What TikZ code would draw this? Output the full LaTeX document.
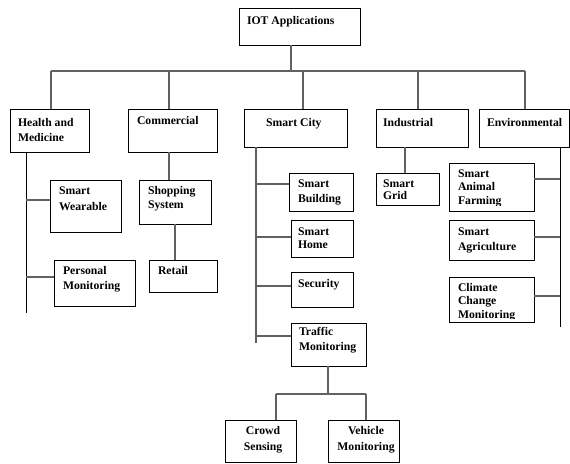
\documentclass[tikz,border=0pt]{standalone}
\usepackage{fontspec}
\setmainfont{Liberation Serif}
\tikzset{
  box/.style={draw=black, line width=0.9pt, inner sep=0pt, outer sep=0pt, anchor=north west},
  txt/.style={inner sep=0pt, outer sep=0pt, anchor=base west, font=\fontsize{11.7}{15}\selectfont\bfseries},
  ctxt/.style={txt, anchor=base},
  conn/.style={draw=black!62, line width=1.1pt},
  conk/.style={draw=black, line width=0.85pt},
}
\newcommand\bline[1]{\hbox{#1}}
\newcommand\ctrline[1]{\hbox to 0pt{\hss #1\hss}}
\begin{document}
\begin{tikzpicture}[x=1pt,y=-1pt]
\useasboundingbox (0,0) rectangle (570,463);
% ---- top
\node[box, minimum width=121pt, minimum height=37pt] (iot) at (239,8) {};
\node[txt] (iot-t) at (247,24) {IOT Applications};
% ---- level 1
\node[box, minimum width=79pt, minimum height=43pt] (health) at (10,109) {};
\node[txt] (health-t) at (18,126) {\vtop{\bline{Health and}\bline{Medicine}}};
\node[box, minimum width=89pt, minimum height=43pt] (comm) at (128,109) {};
\node[txt] (comm-t) at (137,124) {Commercial};
\node[box, minimum width=103pt, minimum height=38pt] (city) at (244,109) {};
\node[txt] (city-t) at (266,126) {Smart City};
\node[box, minimum width=92pt, minimum height=38pt] (ind) at (376,109) {};
\node[txt] (ind-t) at (383,126) {Industrial};
\node[box, minimum width=90pt, minimum height=38pt] (env) at (479,109) {};
\node[txt] (env-t) at (487,126) {Environmental};
% ---- health children
\node[box, minimum width=71pt, minimum height=52pt] (wear) at (50,180) {};
\node[txt, font=\fontsize{11.7}{16}\selectfont\bfseries] (wear-t) at (59,194) {\vtop{\bline{Smart}\bline{Wearable}}};
\node[box, minimum width=81pt, minimum height=46pt] (pers) at (54,260) {};
\node[txt] (pers-t) at (63,274) {\vtop{\bline{Personal}\bline{Monitoring}}};
% ---- commercial children
\node[box, minimum width=72pt, minimum height=44pt] (shop) at (139,180) {};
\node[txt, font=\fontsize{11.7}{14}\selectfont\bfseries] (shop-t) at (148,194) {\vtop{\bline{Shopping}\bline{System}}};
\node[box, minimum width=68pt, minimum height=32pt] (retail) at (149,260) {};
\node[txt] (retail-t) at (158,274) {Retail};
% ---- smart city children
\node[box, minimum width=64pt, minimum height=38pt] (bld) at (289,173) {};
\node[txt] (bld-t) at (298,187) {\vtop{\bline{Smart}\bline{Building}}};
\node[box, minimum width=62pt, minimum height=37pt] (home) at (291,220) {};
\node[txt, font=\fontsize{11.7}{13.5}\selectfont\bfseries] (home-t) at (298,235) {\vtop{\bline{Smart}\bline{Home}}};
\node[box, minimum width=62pt, minimum height=35pt] (sec) at (291,272) {};
\node[txt] (sec-t) at (298,287) {Security};
\node[box, minimum width=75pt, minimum height=43pt] (traffic) at (291,323) {};
\node[txt] (traffic-t) at (299,335) {\vtop{\bline{Traffic}\bline{Monitoring}}};
\node[box, minimum width=71pt, minimum height=42pt] (crowd) at (225,420) {};
\node[ctxt, font=\fontsize{11.7}{16}\selectfont\bfseries] (crowd-t) at (263,434) {\vtop{\ctrline{Crowd}\ctrline{Sensing}}};
\node[box, minimum width=71pt, minimum height=42pt] (veh) at (328,420) {};
\node[ctxt, font=\fontsize{11.7}{16}\selectfont\bfseries] (veh-t) at (366,434) {\vtop{\ctrline{Vehicle}\ctrline{Monitoring}}};
% ---- industrial child
\node[box, minimum width=63pt, minimum height=32pt] (grid) at (376,173) {};
\node[txt, font=\fontsize{11.7}{12.5}\selectfont\bfseries] (grid-t) at (383,187) {\vtop{\bline{Smart}\bline{Grid}}};
% ---- environmental children
\node[box, minimum width=85pt, minimum height=48pt] (farm) at (449,163) {};
\begin{scope}
\clip (449,163) rectangle (534,205.5);
\node[txt, font=\fontsize{11.7}{13.5}\selectfont\bfseries] (farm-t) at (458,177) {\vtop{\bline{Smart}\bline{Animal}\bline{Farming}}};
\end{scope}
\node[box, minimum width=85pt, minimum height=40pt] (agri) at (449,220) {};
\node[txt] (agri-t) at (458,235) {\vtop{\bline{Smart}\bline{Agriculture}}};
\node[box, minimum width=85pt, minimum height=45pt] (clim) at (449,277) {};
\begin{scope}
\clip (449,277) rectangle (534,318);
\node[txt, font=\fontsize{11.7}{13.5}\selectfont\bfseries] (clim-t) at (458,291) {\vtop{\bline{Climate}\bline{Change}\bline{Monitoring}}};
\end{scope}
% ---- connectors: top bus
\coordinate (busj) at (291,71);
\coordinate (busl) at (51,71);
\coordinate (busr) at (525,71);
\coordinate (dc) at (169,71);
\coordinate (ds) at (303,71);
\coordinate (di) at (418,71);
\draw[conn] (busj |- iot.south) -- (busj);
\draw[conn] (busl) -- (busr);
\draw[conn] (busl) -- (busl |- health.north);
\draw[conn] (dc) -- (dc |- comm.north);
\draw[conn] (ds) -- (ds |- city.north);
\draw[conn] (di) -- (di |- ind.north);
\draw[conn] (busr) -- (busr |- env.north);
% ---- health
\coordinate (hs) at (26,313);
\coordinate (hb1) at (26,200);
\coordinate (hb2) at (26,277);
\draw[conk] (hs |- health.south) -- (hs);
\draw[conn] (hb1) -- (hb1 -| wear.west);
\draw[conn] (hb2) -- (hb2 -| pers.west);
% ---- commercial
\coordinate (cs) at (169,152);
\coordinate (ss) at (175,224);
\draw[conn] (cs |- comm.south) -- (cs |- shop.north);
\draw[conn] (ss |- shop.south) -- (ss |- retail.north);
% ---- smart city
\coordinate (scs) at (256,343);
\coordinate (sb1) at (256,184);
\coordinate (sb2) at (256,237);
\coordinate (sb3) at (256,286);
\coordinate (sb4) at (256,336);
\draw[conn] (scs |- city.south) -- (scs);
\draw[conn] (sb1) -- (sb1 -| bld.west);
\draw[conn] (sb2) -- (sb2 -| home.west);
\draw[conn] (sb3) -- (sb3 -| sec.west);
\draw[conn] (sb4) -- (sb4 -| traffic.west);
% ---- traffic
\coordinate (tj) at (328,394);
\coordinate (tl) at (276,394);
\coordinate (tr) at (366,394);
\draw[conn] (tj |- traffic.south) -- (tj);
\draw[conn] (tl) -- (tr);
\draw[conn] (tl) -- (tl |- crowd.north);
\draw[conn] (tr) -- (tr |- veh.north);
% ---- industrial
\coordinate (is) at (405,147);
\draw[conn] (is |- ind.south) -- (is |- grid.north);
% ---- environmental
\coordinate (es) at (560,327);
\coordinate (eb1) at (560,179);
\coordinate (eb2) at (560,237);
\coordinate (eb3) at (560,296);
\draw[conk] (es |- env.south) -- (es);
\draw[conn] (eb1) -- (eb1 -| farm.east);
\draw[conn] (eb2) -- (eb2 -| agri.east);
\draw[conn] (eb3) -- (eb3 -| clim.east);
\end{tikzpicture}
\end{document}
